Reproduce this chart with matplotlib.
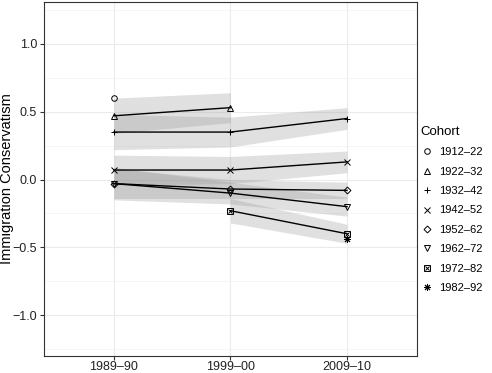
# cohort trends in immigration conservatism, line + ribbon chart
import numpy as np
import matplotlib.pyplot as plt
from matplotlib.lines import Line2D
from matplotlib.legend_handler import HandlerTuple

plt.rcParams['font.family'] = ['Liberation Sans', 'DejaVu Sans']

waves = ["1989\u201390", "1999\u201300", "2009\u201310"]
cohorts = ["1912\u201322", "1922\u201332", "1932\u201342", "1942\u201352",
           "1952\u201362", "1962\u201372", "1972\u201382", "1982\u201392"]
markers = ["o", "^", "+", "x", "D", "v", "sx", "ast"]

# mean per wave (None = cohort not observed)
means = {
    "1912\u201322": [0.60, None, None],
    "1922\u201332": [0.47, 0.53, None],
    "1932\u201342": [0.35, 0.35, 0.45],
    "1942\u201352": [0.07, 0.07, 0.13],
    "1952\u201362": [-0.03, -0.07, -0.08],
    "1962\u201372": [-0.03, -0.10, -0.20],
    "1972\u201382": [None, -0.23, -0.40],
    "1982\u201392": [None, None, -0.44],
}
# half-width of the confidence ribbon
halfwidth = {
    "1912\u201322": [0.0, None, None],
    "1922\u201332": [0.13, 0.11, None],
    "1932\u201342": [0.13, 0.11, 0.08],
    "1942\u201352": [0.11, 0.10, 0.08],
    "1952\u201362": [0.11, 0.07, 0.06],
    "1962\u201372": [0.12, 0.08, 0.07],
    "1972\u201382": [None, 0.09, 0.07],
    "1982\u201392": [None, None, 0.0],
}


def marker_styles(m):
    # list of Line2D kwargs drawn on top of each other for one shape
    base = dict(color='black', mfc='none', ms=4, mew=0.7, ls='none')
    if m == 'sx':
        return [dict(base, marker='s'), dict(base, marker='x', ms=3.5)]
    if m == 'ast':
        return [dict(base, marker=(8, 2, 0), ms=5)]
    if m == 'D':
        return [dict(base, marker='D', ms=3.5)]
    return [dict(base, marker=m)]


fig = plt.figure(figsize=(4.92, 3.73), dpi=100)
ax = fig.add_axes([0.0894, 0.046, 0.758, 0.949])

for c, m in zip(cohorts, markers):
    idx = [i for i, v in enumerate(means[c]) if v is not None]
    y = np.array([means[c][i] for i in idx])
    hw = np.array([halfwidth[c][i] for i in idx])
    x = np.array(idx, dtype=float)
    if len(idx) > 1:
        ax.fill_between(x, y - hw, y + hw, color='#999999', alpha=0.3, lw=0)
        ax.plot(x, y, color='black', lw=1.0)
    for kw in marker_styles(m):
        ax.plot(x, y, **kw)

ax.set_xlim(-0.6, 2.6)
ax.set_ylim(-1.3, 1.31)
ax.set_xticks(range(len(waves)))
ax.set_xticklabels(waves)
ax.set_yticks([-1.0, -0.5, 0.0, 0.5, 1.0])
ax.set_yticks([-1.25, -0.75, -0.25, 0.25, 0.75, 1.25], minor=True)
ax.grid(which='major', color='#ebebeb', lw=0.8)
ax.grid(which='minor', axis='y', color='#f2f2f2', lw=0.5)
ax.set_axisbelow(True)
ax.tick_params(which='major', length=3, color='#333333', labelsize=9,
               labelcolor='#222222', pad=2)
ax.tick_params(axis='x', pad=1)
ax.tick_params(which='minor', length=0)
for s in ax.spines.values():
    s.set_color('#333333')
    s.set_linewidth(0.8)
ax.set_ylabel("Immigration Conservatism", fontsize=10.5, va='center')
ax.yaxis.set_label_coords(-0.1, 0.5)

handles = []
for m in markers:
    hs = tuple(Line2D([], [], **kw) for kw in marker_styles(m))
    handles.append(hs)
leg = fig.legend(handles, cohorts, title="Cohort", loc='upper left',
                 bbox_to_anchor=(0.845, 0.675), frameon=False, fontsize=8,
                 title_fontsize=9.5, labelspacing=0.85, handlelength=1.2,
                 handletextpad=0.5, borderaxespad=0,
                 handler_map={tuple: HandlerTuple(ndivide=1)})
leg._legend_box.align = 'left'

fig.savefig("out.png", dpi=100)
